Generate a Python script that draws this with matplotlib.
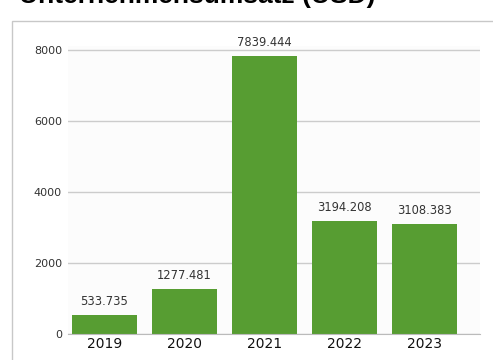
import matplotlib
matplotlib.use("Agg")
from matplotlib import pyplot as plt
from matplotlib.patches import Rectangle

# Data
years = ["2019", "2020", "2021", "2022", "2023"]
revenue = [533.735, 1277.481, 7839.444, 3194.208, 3108.383]
y_ticks = [0, 2000, 4000, 6000, 8000]

bar_color = "#579d32"
grid_color = "#cccccc"

W, H = 493, 360
fig = plt.figure(figsize=(W / 100, H / 100), dpi=100)

# Axes placement in pixel terms
left, right, top, bottom = 68, 480, 46, 334
ax = fig.add_axes([left / W, (H - bottom) / H, (right - left) / W, (bottom - top) / H])
ax.set_facecolor("#fcfcfc")

x = range(len(years))
bars = ax.bar(x, revenue, width=0.81, color=bar_color, zorder=3)

ax.set_xlim(-0.456, 4.69)
ax.set_ylim(0, 8113)
ax.set_yticks(y_ticks)
ax.set_yticklabels([str(t) for t in y_ticks], fontsize=8, color="#333333")
ax.set_xticks(list(x))
ax.set_xticklabels(years, fontsize=10, color="#111111")
ax.tick_params(axis="y", length=0, pad=4.3)
ax.tick_params(axis="x", length=0, pad=2.5)

ax.grid(axis="y", color=grid_color, linewidth=1, zorder=0)
for side in ["top", "right", "left"]:
    ax.spines[side].set_visible(False)
ax.spines["bottom"].set_color("#bbbbbb")
ax.spines["bottom"].set_zorder(4)

for b, v in zip(bars, revenue):
    ax.annotate(f"{v:.3f}", (b.get_x() + b.get_width() / 2, v),
                xytext=(0, 5), textcoords="offset points",
                ha="center", va="bottom", fontsize=8.3, color="#333333")

# Outer frame
fig.patches.append(Rectangle((12 / W, -0.1), 1.2, (H - 21) / H + 0.1,
                             transform=fig.transFigure, fill=False,
                             edgecolor="#c8c8c8", linewidth=1, clip_on=False))

# Title (mostly cropped off at the top)
fig.text(19 / W, (H - 3) / H, "Unternehmensumsatz (USD)", fontsize=19,
         fontweight="bold", family="Liberation Sans", va="baseline", ha="left")

fig.savefig("out.png", dpi=100)
